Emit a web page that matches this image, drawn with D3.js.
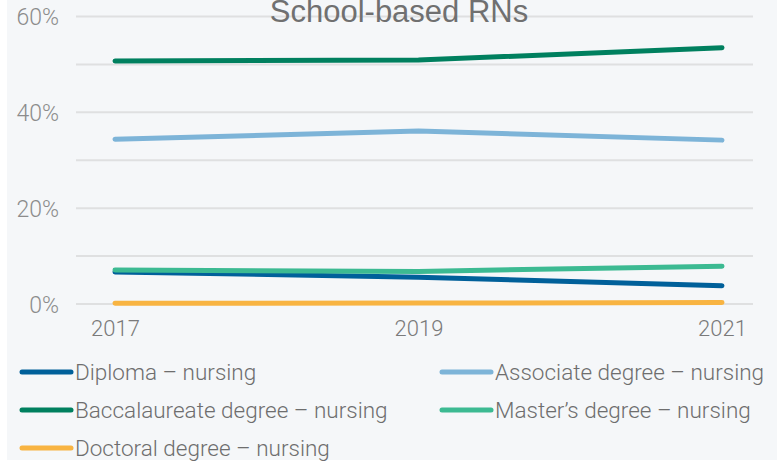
<!DOCTYPE html>
<html>
<head>
<meta charset="utf-8">
<script src="https://cdn.jsdelivr.net/npm/d3@7"></script>
<style>
  body { margin: 0; background: #ffffff; }
  svg { display: block; }
</style>
</head>
<body>
<div id="chart"></div>
<script>
var years = ["2017", "2019", "2021"]
var seriesNames = [
  "Diploma – nursing",
  "Associate degree – nursing",
  "Baccalaureate degree – nursing",
  "Master’s degree – nursing",
  "Doctoral degree – nursing"
]
var diploma = [6.7, 5.6, 3.8]
var associate = [34.4, 36.1, 34.2]
var baccalaureate = [50.7, 50.9, 53.5]
var masters = [7.1, 6.8, 7.9]
var doctoral = [0.15, 0.2, 0.3]
var seriesColors = ["#00609a", "#7db4d8", "#00805f", "#3cba92", "#f8b442"]
var yTicks = [0, 10, 20, 30, 40, 50, 60]
var yLabelTicks = [0, 20, 40, 60]

var width = 777, height = 463
var svg = d3.select("#chart").append("svg")
  .attr("width", width)
  .attr("height", height)

svg.append("rect")
  .attr("x", 7).attr("y", 0)
  .attr("width", width - 7).attr("height", 460)
  .attr("fill", "#f5f7f9")

var x = d3.scalePoint().domain(years).range([115, 722])
var y = d3.scaleLinear().domain([0, 60]).range([304, 16.5])

// gridlines
svg.append("g").selectAll("line").data(yTicks).enter().append("line")
  .attr("x1", 76).attr("x2", 753)
  .attr("y1", function(d) { return y(d) })
  .attr("y2", function(d) { return y(d) })
  .attr("stroke", "#dfe0e1")
  .attr("stroke-width", 2)

// y labels
var yAxis = svg.append("g")
  .attr("transform", "translate(59,0)")
  .call(d3.axisLeft(y).tickValues(yLabelTicks).tickSize(0).tickPadding(0)
    .tickFormat(function(d) { return d + "%" }))
yAxis.select(".domain").remove()
yAxis.selectAll("text")
  .attr("dy", "0.35em")
  .style("font-family", "Roboto, sans-serif")
  .style("font-weight", 300)
  .style("font-size", "23px")
  .attr("fill", "#8c8c8c")

// x labels
var xAxis = svg.append("g")
  .attr("transform", "translate(0,320)")
  .call(d3.axisBottom(x).tickSize(0).tickPadding(0))
xAxis.select(".domain").remove()
xAxis.selectAll("text")
  .attr("dy", "0.71em")
  .style("font-family", "Roboto, sans-serif")
  .style("font-weight", 300)
  .style("font-size", "22px")
  .attr("fill", "#7a7a7a")

// title (cut at the top edge, as in the source)
svg.append("text")
  .attr("x", 399).attr("y", 22)
  .attr("text-anchor", "middle")
  .style("font-family", "'Liberation Sans', Arial, sans-serif")
  .style("font-size", "31px")
  .attr("fill", "#707070")
  .text("School-based RNs")

var allSeries = [diploma, associate, baccalaureate, masters, doctoral]
var line = d3.line()
  .x(function(d, i) { return x(years[i]) })
  .y(function(d) { return y(d) })

var drawOrder = [2, 1, 0, 3, 4]
drawOrder.forEach(function(k) {
  svg.append("path")
    .datum(allSeries[k])
    .attr("d", line)
    .attr("fill", "none")
    .attr("stroke", seriesColors[k])
    .attr("stroke-width", 5)
    .attr("stroke-linecap", "round")
    .attr("stroke-linejoin", "round")
})

// legend
var legendPos = [[20, 372], [440, 372], [20, 410], [440, 410], [20, 448]]
var legend = svg.append("g").selectAll("g").data(seriesNames).enter().append("g")
  .attr("transform", function(d, i) { return "translate(" + legendPos[i][0] + "," + legendPos[i][1] + ")" })
legend.append("line")
  .attr("x1", 2).attr("x2", 51)
  .attr("y1", 0).attr("y2", 0)
  .attr("stroke", function(d, i) { return seriesColors[i] })
  .attr("stroke-width", 5)
  .attr("stroke-linecap", "round")
legend.append("text")
  .attr("x", 55).attr("y", 0)
  .attr("dy", "0.35em")
  .style("font-family", "Roboto, sans-serif")
  .style("font-weight", 300)
  .style("font-size", "22.5px")
  .attr("fill", "#6e6e6e")
  .text(function(d) { return d })
</script>
</body>
</html>
